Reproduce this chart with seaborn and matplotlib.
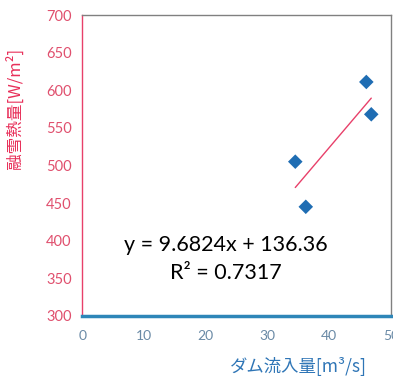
import numpy as np
import pandas as pd
import matplotlib
matplotlib.use('Agg')
import matplotlib.pyplot as plt
import seaborn as sns

# data
inflow = [34.5, 36.2, 46.0, 46.8]          # ダム流入量 [m3/s]
heat = [505, 445, 611, 568]                # 融雪熱量 [W/m2]
x_ticks = [0, 10, 20, 30, 40, 50]
y_ticks = [300, 350, 400, 450, 500, 550, 600, 650, 700]
eq_text = 'y = 9.6824x + 136.36'
r2_text = 'R² = 0.7317'

df = pd.DataFrame({'inflow': inflow, 'heat': heat})

sns.set_style('white')
plt.rcParams['font.family'] = ['Lato', 'Noto Sans CJK JP', 'DejaVu Sans']

fig = plt.figure(figsize=(3.93, 3.76), dpi=100)
ax = fig.add_axes([0.209, 0.160, 0.786, 0.800])

sns.scatterplot(data=df, x='inflow', y='heat', marker='D', s=55,
                color='#1F6DB3', edgecolor='none', ax=ax, zorder=3)

# linear trend line (Excel style, min x to max x)
k, b = np.polyfit(inflow, heat, 1)
xs = np.array([min(inflow), max(inflow)])
ax.plot(xs, k * xs + b, color='#E8406A', lw=1.0, zorder=2)

ax.set_xlim(0, 50)
ax.set_ylim(300, 700)
ax.set_xticks(x_ticks)
ax.set_yticks(y_ticks)

ax.tick_params(axis='y', colors='#E8406A', labelcolor='#E0506E', labelsize=10.5,
               direction='out', length=4, width=0.8)
ax.tick_params(axis='x', colors='#2E86B8', labelcolor='#6A8AA6', labelsize=10,
               direction='inout', length=5, width=0.8, pad=8)

for side in ['top', 'right']:
    ax.spines[side].set_color('#808080')
    ax.spines[side].set_linewidth(1.0)
ax.spines['left'].set_color('#E8406A')
ax.spines['left'].set_linewidth(1.0)
ax.spines['bottom'].set_color('#2E86B8')
ax.spines['bottom'].set_linewidth(2.5)

ax.set_xlabel('ダム流入量[m³/s]', color='#2E75B6', fontsize=12.5,
              family=['Noto Sans CJK JP', 'DejaVu Sans'])
ax.set_ylabel('融雪熱量[W/m²]', color='#E8305A', fontsize=12,
              family=['Noto Sans CJK JP', 'DejaVu Sans'])
ax.xaxis.set_label_coords(0.70, -0.135)
ax.yaxis.set_label_coords(-0.19, 0.69)

ax.text(23.2, 394, eq_text, ha='center', va='center', fontsize=15.5, color='black')
ax.text(23.2, 357, r2_text, ha='center', va='center', fontsize=15.5, color='black')

fig.savefig('out.png', dpi=100)
